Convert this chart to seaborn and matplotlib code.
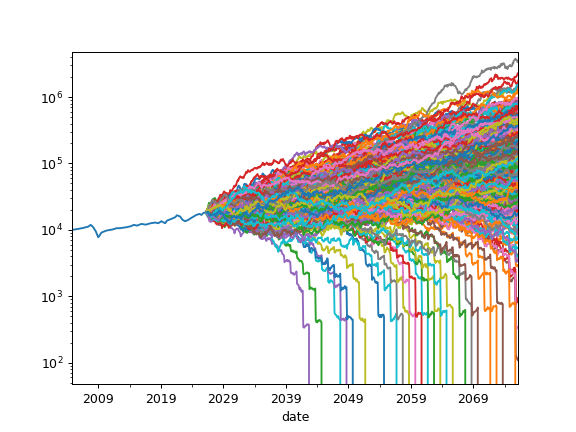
import numpy as np
import pandas as pd
import matplotlib
matplotlib.use("Agg")
import matplotlib.pyplot as plt
import seaborn as sns

# ---- historical series ----
hist_years = [2004.8, 2005.8, 2006.6, 2007.4, 2007.8, 2008.2, 2008.6, 2009.0, 2009.2,
              2009.5, 2009.9, 2010.3, 2010.9, 2011.4, 2011.9, 2012.5, 2013.0, 2013.5,
              2014.2, 2014.7, 2015.2, 2015.9, 2016.6, 2017.4, 2018.1, 2018.6, 2019.1,
              2019.7, 2020.0, 2020.7, 2021.3, 2021.6, 2022.1, 2022.5, 2022.9, 2023.4,
              2023.9, 2024.7, 2025.2, 2025.5, 2025.9, 2026.3]
hist_values = [10010, 10340, 10710, 11200, 11900, 10950, 9540, 7740, 8200,
               9100, 9430, 9760, 10000, 10200, 10600, 10600, 10800, 10950,
               11350, 11900, 11600, 12300, 12000, 12600, 12900, 12600, 13500,
               12600, 13800, 14650, 15500, 16600, 15900, 14150, 13500, 14150,
               15200, 16800, 17400, 16800, 18200, 18200]

# ---- simulation settings ----
n_sims = 300
sim_end = 2076.22
annual_drift = 0.058
annual_vol = 0.12
first_withdrawal = 650.0
withdrawal_growth = 0.02

# paths that run out of money: year of the final drop and colour slot
ruin_years = [2042.8, 2044.8, 2047.8, 2048.8, 2049.8, 2051.8, 2054.8, 2056.8,
              2057.8, 2058.8, 2059.8, 2060.8, 2061.8, 2062.8, 2063.8, 2064.8,
              2065.8, 2067.8, 2068.8, 2069.8, 2071.8, 2072.8, 2073.8, 2075.8]
ruin_colors = [4, 2, 9, 4, 0, 8, 0, 9, 7, 8, 6, 3, 9, 2, 8, 9, 8, 2, 7, 5, 1, 1, 5, 1]

tick_years = [2009, 2019, 2029, 2039, 2049, 2059, 2069]
minor_years = [2014, 2024, 2034, 2044, 2054, 2064, 2074]

# ---- build simulated paths ----
t0 = hist_years[-1]
dt = 1.0 / 12.0
n_steps = int(round((sim_end - t0) / dt))
times = t0 + dt * np.arange(n_steps + 1)
is_wd = (np.arange(n_steps + 1) % 12 == 6)
is_wd[0] = False
wd_amount = np.where(is_wd, first_withdrawal * (1 + withdrawal_growth) ** ((times - t0)), 0.0)
rng = np.random.default_rng(12)


def simulate(z, mu):
    P = z.shape[0]
    B = np.empty((P, n_steps + 1))
    B[:, 0] = hist_values[-1]
    sd = annual_vol * np.sqrt(dt)
    for k in range(n_steps):
        b = B[:, k] * np.exp(mu * dt + sd * z[:, k]) - wd_amount[k + 1]
        B[:, k + 1] = np.where(b <= 0, 0.0, b)
    return B


def ruin_index(B):
    zero = B <= 0
    return np.where(zero.any(axis=1), zero.argmax(axis=1), 10 ** 6)


def threshold(z, tgt):
    # smallest drift for which ruin happens at or after step tgt
    lo = np.full(z.shape[0], -0.8)
    hi = np.full(z.shape[0], 0.3)
    for _ in range(40):
        mid = 0.5 * (lo + hi)
        early = ruin_index(simulate(z, mid)) < tgt
        lo = np.where(early, mid, lo)
        hi = np.where(early, hi, mid)
    return hi

paths = {}
nr = len(ruin_years)
zr = rng.standard_normal((nr, n_steps))
target = np.array([int(round((y - t0) / dt)) for y in ruin_years])
thr_a = threshold(zr, target)
thr_b = threshold(zr, target + 1)
Bruin = simulate(zr, thr_a + 0.45 * (thr_b - thr_a))

rows_per_color = n_sims // 10
ruin_ids = [10 * (1 + k * (rows_per_color - 2) // nr) + c for k, c in enumerate(ruin_colors)]
for k, j in enumerate(ruin_ids):
    paths[j] = Bruin[k]

surv_ids = [j for j in range(1, n_sims + 1) if j not in paths]
ns = len(surv_ids)
zs = rng.standard_normal((ns, n_steps))
mus = np.full(ns, annual_drift)
Bs = simulate(zs, mus)
for _ in range(60):
    bad = ruin_index(Bs) < 10 ** 6
    if not bad.any():
        break
    zs[bad] = rng.standard_normal((bad.sum(), n_steps))
    Bs = simulate(zs, mus)
for k, j in enumerate(surv_ids):
    paths[j] = Bs[k]

# ---- long table ----
frames = [pd.DataFrame({"date": hist_years, "value": hist_values, "path": "p000"})]
for j in range(1, n_sims + 1):
    frames.append(pd.DataFrame({"date": times, "value": paths[j], "path": f"p{j:03d}"}))
df = pd.concat(frames, ignore_index=True)
order = [f"p{j:03d}" for j in range(0, n_sims + 1)]
palette = {f"p{j:03d}": f"C{j % 10}" for j in range(0, n_sims + 1)}

fig, ax = plt.subplots(figsize=(6.4, 4.8), dpi=90)
sns.lineplot(data=df, x="date", y="value", hue="path", hue_order=order,
             palette=palette, estimator=None, sort=False, legend=False,
             linewidth=1.5, ax=ax)
ax.set_yscale("log")
ax.set_ylim(47, 4.8e6)
ax.set_xlim(hist_years[0], times[-1])
ax.set_xticks(tick_years)
ax.set_xticklabels([str(y) for y in tick_years])
ax.set_xticks(minor_years, minor=True)
ax.set_xlabel("date")
ax.set_ylabel("")
fig.savefig("out.png", dpi=90)
